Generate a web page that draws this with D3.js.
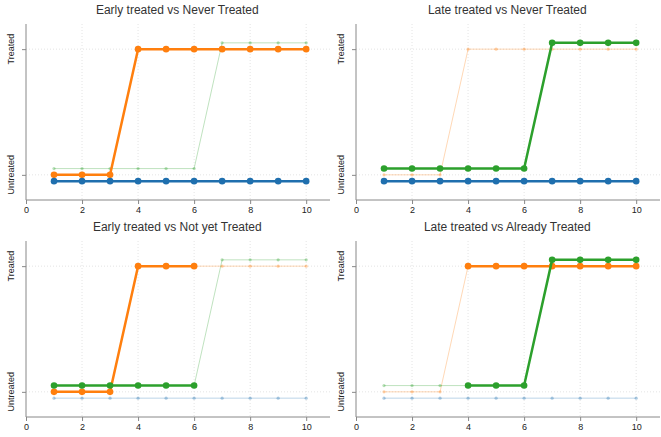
<!DOCTYPE html>
<html>
<head>
<meta charset="utf-8">
<script src="https://cdn.jsdelivr.net/npm/d3@7"></script>
<style>
  body { margin: 0; background: #fff; }
  text { font-family: "Liberation Sans", Arial, sans-serif; }
</style>
</head>
<body>
<svg id="chart"></svg>
<script>
// Data
const periods = [1, 2, 3, 4, 5, 6, 7, 8, 9, 10];
const earlyTreated = [0, 0, 0, 1, 1, 1, 1, 1, 1, 1];
const lateTreated = [0.05, 0.05, 0.05, 0.05, 0.05, 0.05, 1.05, 1.05, 1.05, 1.05];
const neverTreated = [-0.05, -0.05, -0.05, -0.05, -0.05, -0.05, -0.05, -0.05, -0.05, -0.05];
const xTicks = [0, 2, 4, 6, 8, 10];
const yTickValues = [0, 1];
const yTickLabels = ['Untreated', 'Treated'];
const titles = [
    'Early treated vs Never Treated',
    'Late treated vs Never Treated',
    'Early treated vs Not yet Treated',
    'Late treated vs Already Treated'
];

const series = {
    early: { values: earlyTreated, color: '#ff7f0e' },
    late: { values: lateTreated, color: '#2ca02c' },
    never: { values: neverTreated, color: '#1f6fae' }
};

// which part of each series is highlighted per panel: [series, from, to]
const highlights = [
    [['early', 1, 10], ['never', 1, 10]],
    [['late', 1, 10], ['never', 1, 10]],
    [['early', 1, 6], ['late', 1, 6]],
    [['early', 4, 10], ['late', 4, 10]]
];

const svgWidth = 661;
const svgHeight = 437;

const svg = d3.select('#chart')
    .attr('width', svgWidth)
    .attr('height', svgHeight);

const panelW = 330;
const rowTops = [24, 241];
const plotH = 176;
const plotW = 304;
const leftPad = 26;

titles.forEach((title, i) => {
    const col = i % 2;
    const row = Math.floor(i / 2);
    const x0 = col * panelW + leftPad;
    const y0 = rowTops[row];

    const g = svg.append('g').attr('transform', `translate(${x0}, ${y0})`);

    const xScale = d3.scaleLinear().domain([0, 10.85]).range([0, plotW]);
    const yScale = d3.scaleLinear().domain([-0.2, 1.2]).range([plotH, 0]);

    // grid
    g.selectAll('.vgrid')
        .data(xTicks.slice(1))
        .enter()
        .append('line')
        .attr('x1', d => xScale(d))
        .attr('x2', d => xScale(d))
        .attr('y1', 0)
        .attr('y2', plotH)
        .attr('stroke', '#e4e4e4')
        .attr('stroke-dasharray', '1,2');

    g.selectAll('.hgrid')
        .data(yTickValues)
        .enter()
        .append('line')
        .attr('x1', 0)
        .attr('x2', plotW)
        .attr('y1', d => yScale(d))
        .attr('y2', d => yScale(d))
        .attr('stroke', '#e4e4e4')
        .attr('stroke-dasharray', '1,2');

    const line = d3.line()
        .x(d => xScale(d.p))
        .y(d => yScale(d.v));

    // faint background lines
    ['never', 'early', 'late'].forEach(key => {
        const s = series[key];
        const pts = periods.map((p, j) => ({ p: p, v: s.values[j] }));
        g.append('path')
            .datum(pts)
            .attr('d', line)
            .attr('fill', 'none')
            .attr('stroke', s.color)
            .attr('stroke-opacity', 0.3)
            .attr('stroke-width', 1);
        g.selectAll(null)
            .data(pts)
            .enter()
            .append('circle')
            .attr('cx', d => xScale(d.p))
            .attr('cy', d => yScale(d.v))
            .attr('r', 1.6)
            .attr('fill', s.color)
            .attr('fill-opacity', 0.35);
    });

    // highlighted segments
    highlights[i].forEach(([key, from, to]) => {
        const s = series[key];
        const pts = periods
            .map((p, j) => ({ p: p, v: s.values[j] }))
            .filter(d => d.p >= from && d.p <= to);
        g.append('path')
            .datum(pts)
            .attr('d', line)
            .attr('fill', 'none')
            .attr('stroke', s.color)
            .attr('stroke-width', 2.5);
        g.selectAll(null)
            .data(pts)
            .enter()
            .append('circle')
            .attr('cx', d => xScale(d.p))
            .attr('cy', d => yScale(d.v))
            .attr('r', 3.3)
            .attr('fill', s.color);
    });

    // x-axis
    const xAxis = g.append('g')
        .attr('transform', `translate(0, ${plotH})`)
        .call(d3.axisBottom(xScale).tickValues(xTicks).tickSize(4).tickPadding(3));
    xAxis.select('.domain').attr('stroke', '#888').attr('d', `M0,0H${plotW}`);
    xAxis.selectAll('.tick line').attr('stroke', '#888');
    xAxis.selectAll('text').attr('font-size', 9).attr('fill', '#222');

    // y-axis
    const yAxis = g.append('g')
        .call(d3.axisLeft(yScale).tickValues(yTickValues).tickSize(4).tickFormat(''));
    yAxis.select('.domain').attr('stroke', '#888').attr('d', `M0,0V${plotH}`);
    yAxis.selectAll('.tick line').attr('stroke', '#888');

    g.selectAll('.ylab')
        .data(yTickValues)
        .enter()
        .append('text')
        .attr('transform', d => `translate(-12, ${yScale(d)}) rotate(-90)`)
        .attr('text-anchor', 'middle')
        .attr('font-size', 9)
        .attr('fill', '#222')
        .text((d, j) => yTickLabels[j]);

    // title
    g.append('text')
        .attr('x', xScale(5.4))
        .attr('y', -10)
        .attr('text-anchor', 'middle')
        .attr('font-size', 12)
        .attr('fill', '#333')
        .text(title);
});
</script>
</body>
</html>
